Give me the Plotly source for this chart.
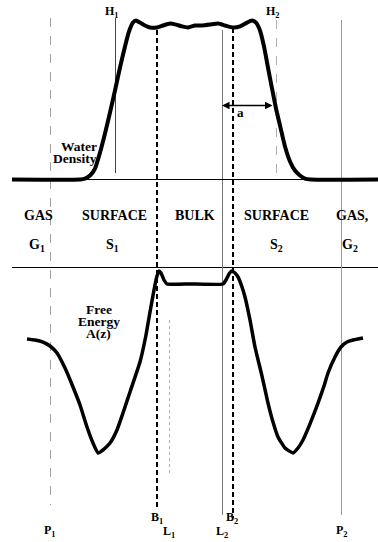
import plotly.graph_objects as go

# ---------------- data ----------------
# position along the surface normal (arbitrary units)
z_density = [12, 80, 85, 90, 95, 100, 105, 110, 115, 120, 125, 129, 133, 136, 140, 145, 150,
             157, 163, 170, 176, 182, 188, 195, 202, 210, 218, 225, 233, 240, 247, 252, 256,
             260, 264, 268, 272, 276, 280, 285, 290, 295, 300, 305, 311, 378]
water_density = [0, 0, 0.006, 0.026, 0.071, 0.175, 0.299, 0.435, 0.578, 0.727, 0.864, 0.961,
                 1.019, 1.032, 1.019, 1.0, 0.987, 0.987, 1.0, 1.013, 1.006, 0.994, 0.987, 1.0,
                 1.0, 1.006, 1.013, 1.0, 0.987, 0.994, 1.019, 1.032, 1.019, 0.968, 0.864, 0.727,
                 0.591, 0.461, 0.351, 0.214, 0.117, 0.058, 0.026, 0.006, 0, 0]

z_energy = [27, 35, 43, 50, 57, 65, 73, 80, 87, 93, 98, 104, 110, 117, 123, 130, 140, 146, 150,
            154, 157, 159, 161, 164, 167, 190, 223, 226, 229, 232, 235, 238, 242, 245, 250, 255,
            262, 268, 273, 278, 285, 293, 298, 303, 310, 318, 324, 328, 335, 341, 347, 353, 363]
free_energy = [0.009, 0, -0.018, -0.053, -0.115, -0.248, -0.416, -0.575, -0.770, -0.912, -1.0,
               -0.965, -0.912, -0.796, -0.646, -0.460, -0.195, 0.044, 0.248, 0.442, 0.566, 0.611,
               0.593, 0.531, 0.496, 0.496, 0.496, 0.531, 0.584, 0.611, 0.593, 0.558, 0.469, 0.381,
               0.177, -0.062, -0.319, -0.558, -0.726, -0.858, -0.956, -1.0, -0.956, -0.885,
               -0.743, -0.558, -0.407, -0.292, -0.150, -0.062, -0.018, 0, 0.018]

region_names = ["GAS", "SURFACE", "BULK", "SURFACE", "GAS,"]
region_z = [38, 114, 195, 276, 352]
region_symbols = ["G<sub>1</sub>", "S<sub>1</sub>", "S<sub>2</sub>", "G<sub>2</sub>"]
region_symbol_z = [37, 112, 276, 350]

# ---------------- figure ----------------
W, H = 378, 542
FONT = "Liberation Serif"
BASE_PX = 179.5      # pixel row of zero density
DENS_PX = 154        # pixels per density unit
EN0_PX = 340         # pixel row of zero free energy
EN_PX = 113          # pixels per free-energy unit


def py(p):
    """pixel row -> paper coordinate"""
    return 1 - p / H


fig = go.Figure()
fig.add_trace(go.Scatter(x=z_density, y=water_density, mode="lines",
                         line=dict(color="black", width=4, shape="spline", smoothing=0.5),
                         hoverinfo="skip", showlegend=False))
fig.add_trace(go.Scatter(x=z_energy, y=free_energy, mode="lines", yaxis="y2",
                         line=dict(color="black", width=3.5, shape="spline", smoothing=0.4),
                         hoverinfo="skip", showlegend=False))

shapes = []
# baseline of density and separator
shapes.append(dict(type="line", xref="x", yref="y", x0=12, x1=378, y0=0, y1=0,
                   line=dict(color="black", width=1), layer="below"))
shapes.append(dict(type="line", xref="x", yref="paper", x0=12, x1=378, y0=py(267.5), y1=py(267.5),
                   line=dict(color="black", width=1), layer="below"))

vlines = [
    (50.5, 18, 505, "#a0a0a0", 1, "dash"),
    (115.5, 18, 173, "#444444", 1, "solid"),
    (157, 30, 507, "black", 2, "5px,3px"),
    (169.5, 320, 476, "#b0b0b0", 1, "dot"),
    (222.5, 30, 515, "#777777", 1, "solid"),
    (233, 28, 518, "black", 2, "5px,3px"),
    (276.5, 20, 180, "#b0b0b0", 1, "dash"),
    (341.5, 20, 515, "#999999", 1, "solid"),
]
for x, p0, p1, c, w, d in vlines:
    shapes.append(dict(type="line", xref="x", yref="paper", x0=x, x1=x, y0=py(p0), y1=py(p1),
                       line=dict(color=c, width=w, dash=d), layer="below"))

ann = []


def txt(t, x, p, size=14, xanchor="center"):
    ann.append(dict(text="<b>" + t + "</b>", x=x, y=py(p), xref="x", yref="paper",
                    showarrow=False, xanchor=xanchor, yanchor="middle",
                    font=dict(family=FONT, size=size, color="black")))


for name, z in zip(region_names, region_z):
    txt(name, z, 216)
for s, z in zip(region_symbols, region_symbol_z):
    txt(s, z, 245)

txt("H<sub>1</sub>", 112, 12, 12)
txt("H<sub>2</sub>", 273, 12, 12)
txt("Water", 99, 146, 13.5, "right")
txt("Density", 99, 158, 13.5, "right")
txt("Free", 99, 309, 13.5)
txt("Energy", 99, 321, 13.5)
txt("A(z)", 98, 333, 13.5)
txt("a", 240, 113, 13)
txt("P<sub>1</sub>", 50, 531, 12)
txt("P<sub>2</sub>", 342, 531, 12)
txt("B<sub>1</sub>", 157, 518, 12)
txt("B<sub>2</sub>", 232, 518, 12)
txt("L<sub>1</sub>", 169, 532, 12)
txt("L<sub>2</sub>", 222, 532, 12)

# double-headed arrow "a"
arrow_y = (BASE_PX - 105.5) / DENS_PX
ann.append(dict(x=222, y=arrow_y, ax=274, ay=arrow_y, xref="x", yref="y", axref="x", ayref="y",
                text="", showarrow=True, arrowhead=2, arrowside="end+start", arrowsize=1,
                arrowwidth=1.5, arrowcolor="black"))

fig.update_layout(
    width=W, height=H, margin=dict(l=0, r=0, t=0, b=0),
    paper_bgcolor="white", plot_bgcolor="white",
    xaxis=dict(range=[0, W], visible=False, fixedrange=True),
    yaxis=dict(range=[-(H - BASE_PX) / DENS_PX, BASE_PX / DENS_PX], visible=False,
               fixedrange=True),
    yaxis2=dict(range=[-(H - EN0_PX) / EN_PX, EN0_PX / EN_PX], overlaying="y", visible=False,
                fixedrange=True),
    shapes=shapes, annotations=ann, showlegend=False,
)

fig.write_html("out.html", config={"displayModeBar": False})
